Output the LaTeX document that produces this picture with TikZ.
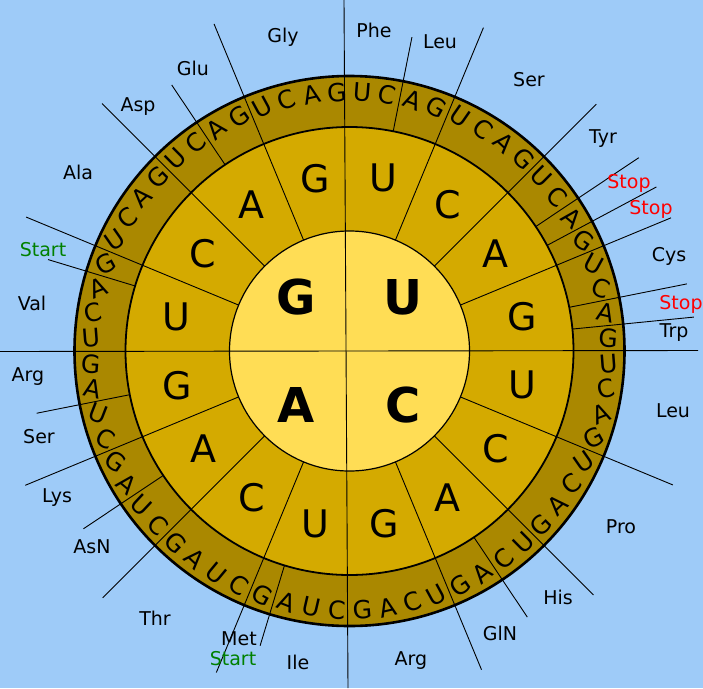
\documentclass[tikz,border=0pt]{standalone}
\usepackage{fontspec}
\setmainfont{DejaVu Sans}
\usetikzlibrary{positioning}

\definecolor{sky}{HTML}{9ECBF8}
\definecolor{core}{HTML}{FFDD55}
\definecolor{middle}{HTML}{D4AA00}
\definecolor{rim}{HTML}{AA8800}
\definecolor{stopred}{HTML}{FF0000}
\definecolor{startgreen}{HTML}{008000}

\begin{document}
\begin{tikzpicture}[x=1pt,y=-1pt,
    amino/.style={font=\fontsize{19}{19}\selectfont,inner sep=0pt},
    rimbase/.style={font=\fontsize{25}{25}\selectfont,inner sep=0pt},
    midbase/.style={font=\fontsize{38}{38}\selectfont,inner sep=0pt},
    corebase/.style={font=\fontsize{48}{48}\selectfont\bfseries,inner sep=0pt},
    sep/.style={line width=0.9pt}]

\useasboundingbox (0,0) rectangle (703,688);
\fill[sky] (0,0) rectangle (703,688);

\coordinate (c) at (349.5,351);
\fill[rim] (c) circle (275);
\fill[middle] (c) circle (224);
\fill[core] (c) circle (120);

% axes
\draw[sep] (344,0) -- (348,688);
\draw[sep] (0,351.5) -- (698,350.5);

\begin{scope}[shift={(c)}]
% theta (clockwise from north) / from / to
\foreach \t/\from/\to in {11.25/224/320, 22.5/120/350, 45/120/349, 56.25/224/348,
    61.875/224/348, 67.5/120/348, 78.75/224/344, 84.375/224/346,
    112.5/120/350, 135/120/345, 146.25/224/320, 157.5/120/345,
    196.875/224/308, 202.5/120/348, 225/120/349, 236.25/224/320,
    247.5/120/351, 258.75/224/319, 286.875/224/315, 292.5/120/350,
    315/120/350, 326.25/224/320, 337.5/120/354} {
    \draw[sep] ({\t-90}:\from) -- ({\t-90}:\to);
}

\draw[line width=2.6pt] (0,0) circle (275);
\draw[line width=1.8pt] (0,0) circle (224);
\draw[line width=1.2pt] (0,0) circle (120);

% first base
\foreach \t/\b in {45/U, 135/C, 225/A, 315/G} {
    \node[corebase] (f\b) at ({\t-90}:76) {\b};
}

% second base
\foreach \q in {0,...,3} {
    \foreach \b [count=\j from 0] in {U,C,A,G} {
        \node[midbase] (m\q\j) at ({90*\q+22.5*\j+11.25-90}:176) {\b};
    }
}

% third base
\foreach \q/\one/\two in {0/U/C, 1/U/C, 2/C/U, 3/U/C} {
    \foreach \j in {0,...,3} {
        \foreach \b [count=\i from 0] in {\one,\two,A,G} {
            \pgfmathsetmacro\t{90*\q+22.5*\j+5.625*(\i+0.5)}
            \pgfmathsetmacro\rot{-45*sin(2*\t)}
            \node[rimbase,rotate=\rot] (r\q\j\i) at ({\t-90}:259) {\b};
        }
    }
}
\end{scope}

% amino acids
\foreach \x/\y/\name/\txt/\col in {374/30/phe/Phe/black, 440/42/leuA/Leu/black,
    529/80/serA/Ser/black, 603/139/tyr/Tyr/black, 629/183/stopA/Stop/stopred,
    651/209/stopB/Stop/stopred, 669/256/cys/Cys/black, 681/304/stopC/Stop/stopred,
    674/333/trp/Trp/black, 673/411/leuB/Leu/black, 621/527/pro/Pro/black,
    558/597/his/His/black, 500/633/gln/GlN/black, 411/661/argA/Arg/black,
    298/662/ile/Ile/black, 239/639/met/Met/black, 233/659/startA/Start/startgreen,
    155/618/thr/Thr/black, 92/547/asn/AsN/black, 57/498/lys/Lys/black,
    39/437/serB/Ser/black, 28/377/argB/Arg/black, 32/303/val/Val/black,
    43/250/startB/Start/startgreen, 78/172/ala/Ala/black, 138/107/asp/Asp/black,
    193/68/glu/Glu/black, 283/37/gly/Gly/black} {
    \node[amino,text=\col] (\name) at (\x,\y) {\txt};
}
\end{tikzpicture}
\end{document}
